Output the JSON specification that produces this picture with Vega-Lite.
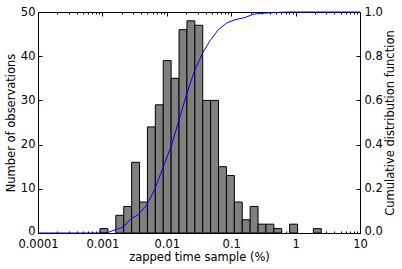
{
  "$schema": "https://vega.github.io/schema/vega-lite/v6.json",
  "width": 322,
  "height": 221,
  "autosize": {"type": "none"},
  "padding": {"left": 38, "top": 12, "right": 42, "bottom": 36},
  "config": {
    "font": "DejaVu Sans",
    "view": {"stroke": "black", "strokeWidth": 1},
    "axis": {
      "grid": false,
      "domain": false,
      "labelFont": "DejaVu Sans",
      "titleFont": "DejaVu Sans",
      "labelFontSize": 11.5,
      "titleFontSize": 11.5,
      "titleFontWeight": "normal",
      "labelColor": "black",
      "titleColor": "black",
      "tickColor": "black",
      "tickWidth": 1
    }
  },
  "datasets": {
    "bins": [
      {"lo": 0.0009183, "hi": 0.0012181, "count": 1},
      {"lo": 0.0016161, "hi": 0.0021438, "count": 4},
      {"lo": 0.0021438, "hi": 0.0028436, "count": 6},
      {"lo": 0.0028436, "hi": 0.003772, "count": 16},
      {"lo": 0.003772, "hi": 0.005004, "count": 7},
      {"lo": 0.005004, "hi": 0.006637, "count": 24},
      {"lo": 0.006637, "hi": 0.008805, "count": 29},
      {"lo": 0.008805, "hi": 0.011675, "count": 39},
      {"lo": 0.011675, "hi": 0.015488, "count": 35},
      {"lo": 0.015488, "hi": 0.020544, "count": 46},
      {"lo": 0.020544, "hi": 0.027254, "count": 48},
      {"lo": 0.027254, "hi": 0.036149, "count": 47},
      {"lo": 0.036149, "hi": 0.047955, "count": 30},
      {"lo": 0.047955, "hi": 0.063605, "count": 30},
      {"lo": 0.063605, "hi": 0.084372, "count": 15},
      {"lo": 0.084372, "hi": 0.11193, "count": 13},
      {"lo": 0.11193, "hi": 0.14845, "count": 7},
      {"lo": 0.14845, "hi": 0.1969, "count": 3},
      {"lo": 0.1969, "hi": 0.26122, "count": 6},
      {"lo": 0.26122, "hi": 0.34648, "count": 2},
      {"lo": 0.34648, "hi": 0.45962, "count": 2},
      {"lo": 0.45962, "hi": 0.6097, "count": 1},
      {"lo": 0.80871, "hi": 1.0727, "count": 2},
      {"lo": 1.8874, "hi": 2.5035, "count": 1}
    ],
    "cdf": [
      {"x": 0.0001, "cdf": 0},
      {"x": 0.00092, "cdf": 0},
      {"x": 0.00124, "cdf": 0.003},
      {"x": 0.00167, "cdf": 0.017},
      {"x": 0.00211, "cdf": 0.027},
      {"x": 0.00278, "cdf": 0.065},
      {"x": 0.00361, "cdf": 0.083},
      {"x": 0.00487, "cdf": 0.125},
      {"x": 0.00656, "cdf": 0.2},
      {"x": 0.00883, "cdf": 0.3},
      {"x": 0.0119, "cdf": 0.4},
      {"x": 0.0151, "cdf": 0.5},
      {"x": 0.0204, "cdf": 0.63},
      {"x": 0.0274, "cdf": 0.74},
      {"x": 0.0369, "cdf": 0.82},
      {"x": 0.0469, "cdf": 0.87},
      {"x": 0.0631, "cdf": 0.92},
      {"x": 0.0851, "cdf": 0.95},
      {"x": 0.1146, "cdf": 0.965},
      {"x": 0.164, "cdf": 0.975},
      {"x": 0.22, "cdf": 0.99},
      {"x": 0.3, "cdf": 0.994},
      {"x": 0.5, "cdf": 0.998},
      {"x": 0.8, "cdf": 1.0},
      {"x": 10, "cdf": 1.0}
    ]
  },
  "layer": [
    {
      "data": {"name": "bins"},
      "mark": {"type": "bar", "fill": "#808080", "stroke": "black", "strokeWidth": 1},
      "encoding": {
        "x": {
          "field": "lo", "type": "quantitative",
          "scale": {"type": "log", "domain": [0.0001, 10], "nice": false},
          "axis": {
            "orient": "bottom",
            "title": "zapped time sample (%)",
            "values": [0.0001,0.0002,0.0003,0.0004,0.0005,0.0006,0.0007,0.0008,0.0009,0.001,0.002,0.003,0.004,0.005,0.006,0.007,0.008,0.009,0.01,0.02,0.03,0.04,0.05,0.06,0.07,0.08,0.09,0.1,0.2,0.3,0.4,0.5,0.6,0.7,0.8,0.9,1,2,3,4,5,6,7,8,9,10],
            "labelExpr": "abs(log(datum.value)/LN10 - round(log(datum.value)/LN10)) < 0.001 ? datum.value : ''",
            "tickSize": {"condition": {"test": "abs(log(datum.value)/LN10 - round(log(datum.value)/LN10)) < 0.001", "value": -4}, "value": -2},
            "labelPadding": 9,
            "titlePadding": 0,
            "labelFlush": false,
            "labelOverlap": false
          }
        },
        "x2": {"field": "hi"},
        "y": {
          "field": "count", "type": "quantitative",
          "scale": {"domain": [0, 50], "nice": false, "zero": true},
          "axis": {
            "orient": "left",
            "title": "Number of observations",
            "values": [0, 10, 20, 30, 40, 50],
            "tickSize": -4,
            "labelPadding": 7,
            "labelOffset": {"condition": {"test": "datum.value == 0", "value": -2}, "value": 0},
            "titlePadding": 4
          }
        },
        "y2": {"datum": 0}
      }
    },
    {
      "data": {"name": "cdf"},
      "mark": {"type": "line", "color": "#0000ff", "strokeWidth": 1},
      "encoding": {
        "x": {
          "field": "x", "type": "quantitative",
          "scale": {"type": "log", "domain": [0.0001, 10], "nice": false},
          "axis": {
            "orient": "top",
            "title": null,
            "labels": false,
            "values": [0.0001,0.0002,0.0003,0.0004,0.0005,0.0006,0.0007,0.0008,0.0009,0.001,0.002,0.003,0.004,0.005,0.006,0.007,0.008,0.009,0.01,0.02,0.03,0.04,0.05,0.06,0.07,0.08,0.09,0.1,0.2,0.3,0.4,0.5,0.6,0.7,0.8,0.9,1,2,3,4,5,6,7,8,9,10],
            "tickSize": {"condition": {"test": "abs(log(datum.value)/LN10 - round(log(datum.value)/LN10)) < 0.001", "value": -4}, "value": -2}
          }
        },
        "y": {
          "field": "cdf", "type": "quantitative",
          "scale": {"domain": [0, 1], "nice": false},
          "axis": {
            "orient": "right",
            "title": "Cumulative distribution function",
            "values": [0, 0.2, 0.4, 0.6, 0.8, 1.0],
            "format": ".1f",
            "tickSize": -4,
            "labelPadding": 8,
            "labelOffset": {"condition": {"test": "datum.value == 0", "value": -2}, "value": 0},
            "titlePadding": 2,
            "titleAngle": 270,
            "titleBaseline": "top"
          }
        }
      }
    }
  ],
  "resolve": {"scale": {"y": "independent"}, "axis": {"x": "independent"}}
}
